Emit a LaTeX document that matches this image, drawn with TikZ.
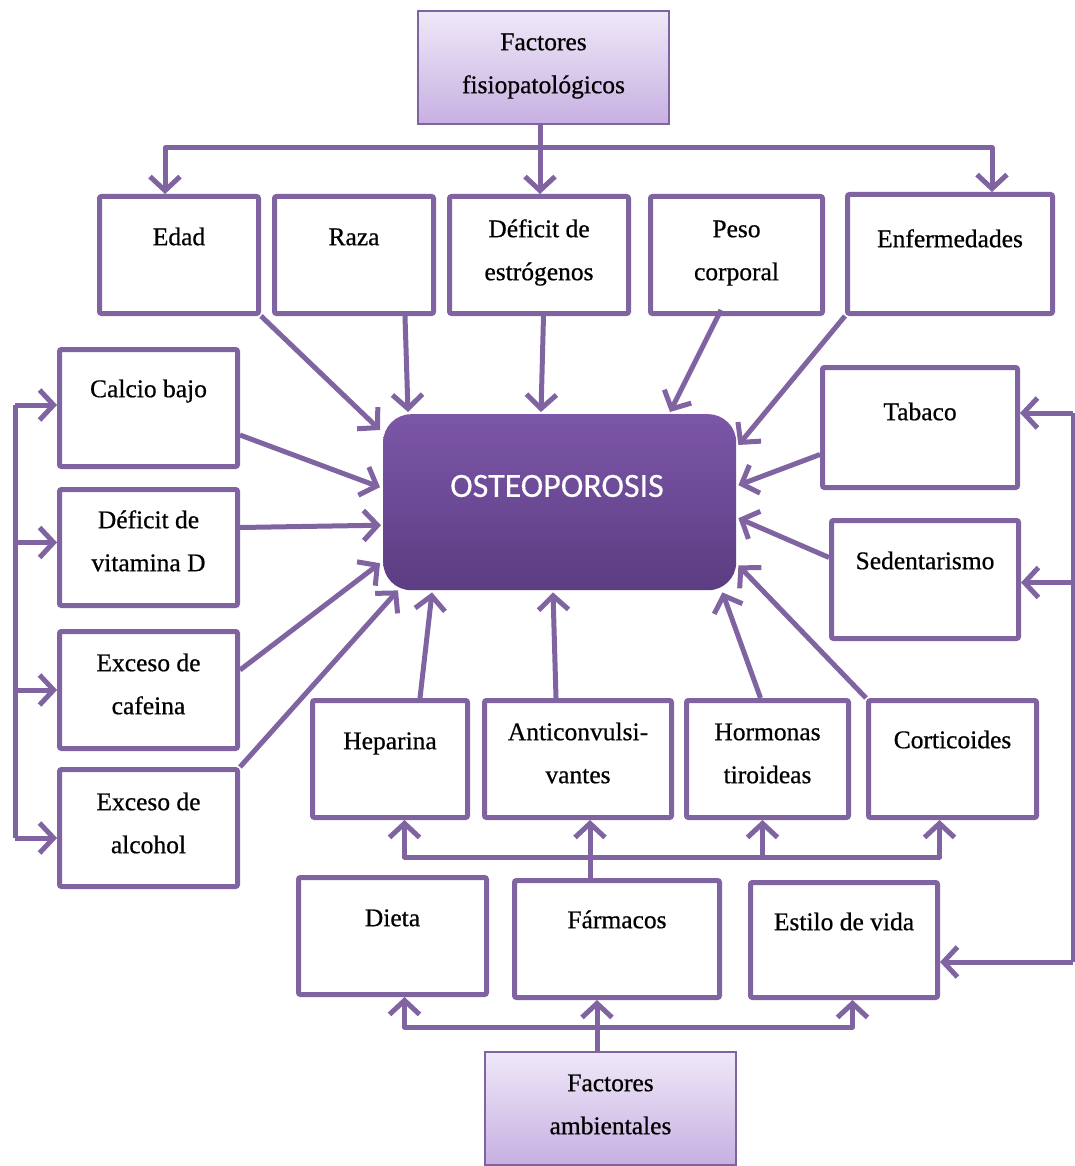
\documentclass[tikz,border=0pt]{standalone}
\usepackage{fontspec}
\setmainfont{Liberation Serif}[FakeBold=0.6]
\newfontfamily\osfont{Carlito}[FakeBold=0.4]
\usetikzlibrary{arrows.meta}
\definecolor{pur}{HTML}{8064A2}
\definecolor{topc}{HTML}{EFE8F8}
\definecolor{botc}{HTML}{C7B0E2}
\definecolor{ostop}{HTML}{7C57A8}
\definecolor{osbot}{HTML}{5C3C82}
\newcommand\lnh{\rule{0pt}{20pt}}
\begin{document}
\begin{tikzpicture}[x=1pt,y=-1pt,
 bx/.style={draw=pur,line width=5pt,fill=white,rounded corners=2pt,anchor=north west,inner sep=0pt},
 gbx/.style={draw=pur,line width=2pt,top color=topc,bottom color=botc,anchor=north west,inner sep=0pt},
 tx/.style={anchor=north,inner sep=0pt,align=center,font=\fontsize{25.5}{43}\selectfont},
 ln/.style={draw=pur,line width=5pt,line join=round},
 con/.style={ln,-{Straight Barb[length=14pt,width=30pt]}}]
\fill[white] (0,0) rectangle (1075,1166);
\useasboundingbox (0,0) rectangle (1075,1166);

% boxes
\node[gbx,minimum width=251pt,minimum height=113pt] (ff) at (417,10) {};
\node[bx,minimum width=159pt,minimum height=117pt] (edad) at (97,194) {};
\node[bx,minimum width=159pt,minimum height=117pt] (raza) at (272,194) {};
\node[bx,minimum width=179pt,minimum height=117pt] (estro) at (447,194) {};
\node[bx,minimum width=172pt,minimum height=117pt] (peso) at (648,194) {};
\node[bx,minimum width=205pt,minimum height=119pt] (enf) at (845,192) {};
\node[bx,minimum width=178pt,minimum height=117pt] (calcio) at (57,347) {};
\node[bx,minimum width=178pt,minimum height=116pt] (vitd) at (57,487) {};
\node[bx,minimum width=178pt,minimum height=117pt] (cafe) at (57,629) {};
\node[bx,minimum width=178pt,minimum height=117pt] (alco) at (57,767) {};
\node[bx,minimum width=195pt,minimum height=120pt] (tabaco) at (820,365) {};
\node[bx,minimum width=187pt,minimum height=118pt] (sed) at (829,518) {};
\node[bx,minimum width=155pt,minimum height=117pt] (hep) at (310,698) {};
\node[bx,minimum width=187pt,minimum height=117pt] (anti) at (482,698) {};
\node[bx,minimum width=162pt,minimum height=117pt] (horm) at (684,698) {};
\node[bx,minimum width=168pt,minimum height=117pt] (cort) at (866,698) {};
\node[bx,minimum width=188pt,minimum height=117pt] (dieta) at (296,875) {};
\node[bx,minimum width=205pt,minimum height=117pt] (farm) at (512,878) {};
\node[bx,minimum width=187pt,minimum height=115pt] (estilo) at (748,880) {};
\node[gbx,minimum width=251pt,minimum height=113pt] (fa) at (484,1051) {};
\node[rounded corners=28pt,top color=ostop,bottom color=osbot,minimum width=353pt,minimum height=176pt,anchor=north west,inner sep=0pt] (osteo) at (383,414) {};

% texts
\node[tx] (ff-t) at ([shift={(0,20)}]ff.north) {\lnh Factores\\fisiopatológicos};
\node[tx] (edad-t) at ([shift={(0,31)}]edad.north) {\lnh Edad};
\node[tx] (raza-t) at ([shift={(0,31)}]raza.north) {\lnh Raza};
\node[tx] (estro-t) at ([shift={(0,23)}]estro.north) {\lnh Déficit de\\estrógenos};
\node[tx] (peso-t) at ([shift={(0,23)}]peso.north) {\lnh Peso\\corporal};
\node[tx] (enf-t) at ([shift={(0,35)}]enf.north) {\lnh Enfermedades};
\node[tx] (calcio-t) at ([shift={(0,30)}]calcio.north) {\lnh Calcio bajo};
\node[tx] (vitd-t) at ([shift={(0,21)}]vitd.north) {\lnh Déficit de\\vitamina D};
\node[tx] (cafe-t) at ([shift={(0,22)}]cafe.north) {\lnh Exceso de\\cafeina};
\node[tx] (alco-t) at ([shift={(0,23)}]alco.north) {\lnh Exceso de\\alcohol};
\node[tx] (tabaco-t) at ([shift={(0,35)}]tabaco.north) {\lnh Tabaco};
\node[tx] (sed-t) at ([shift={(0,31)}]sed.north) {\lnh Sedentarismo};
\node[tx] (hep-t) at ([shift={(0,31)}]hep.north) {\lnh Heparina};
\node[tx] (anti-t) at ([shift={(0,22)}]anti.north) {\lnh Anticonvulsi-\\vantes};
\node[tx] (horm-t) at ([shift={(0,22)}]horm.north) {\lnh Hormonas\\tiroideas};
\node[tx] (cort-t) at ([shift={(0,30)}]cort.north) {\lnh Corticoides};
\node[tx] (dieta-t) at ([shift={(0,31)}]dieta.north) {\lnh Dieta};
\node[tx] (farm-t) at ([shift={(0,30)}]farm.north) {\lnh Fármacos};
\node[tx] (estilo-t) at ([shift={(0,30)}]estilo.north) {\lnh Estilo de vida};
\node[tx] (fa-t) at ([shift={(0,20)}]fa.north) {\lnh Factores\\ambientales};
\node[text=white,inner sep=0pt,font=\osfont\fontsize{34}{34}\selectfont] (osteo-t) at (557,486) {OSTEOPOROSIS};

% top distribution
\coordinate (hb) at (540,148);
\draw[con] (hb |- ff.south) -- (hb |- estro.north);
\draw[con] (hb) -| ([shift={(-14,0)}]edad.north);
\draw[con] (hb) -| ([shift={(42,0)}]enf.north);

% into osteoporosis
\draw[con] (edad.south east) -- ([shift={(-3,16)}]osteo.north west);
\draw[con] ([shift={(-31,0)}]raza.south east) -- ([shift={(25,-2)}]osteo.north west);
\draw[con] ([shift={(4.5,0)}]estro.south) -- ([shift={(158,-2)}]osteo.north west);
\draw[con] ([shift={(-104,-6)}]peso.south east) -- ([shift={(287,-2)}]osteo.north west);
\draw[con] (enf.south west) -- ([shift={(2,31)}]osteo.north east);
\draw[con] ([shift={(0,27)}]calcio.east) -- ([shift={(-3,-15)}]osteo.west);
\draw[con] ([shift={(0,-20)}]vitd.east) -- ([shift={(-2,23)}]osteo.west);
\draw[con] ([shift={(0,-20)}]cafe.east) -- ([shift={(-3,61)}]osteo.west);
\draw[con] (alco.north east) -- ([shift={(15,0)}]osteo.south west);
\draw[con] ([shift={(0,27)}]tabaco.west) -- ([shift={(2,-17)}]osteo.east);
\draw[con] ([shift={(0,-22)}]sed.west) -- ([shift={(2,16)}]osteo.east);
\draw[con] ([shift={(30,0)}]hep.north) -- ([shift={(49,2)}]osteo.south west);
\draw[con] ([shift={(-22,0)}]anti.north) -- ([shift={(170,2)}]osteo.south west);
\draw[con] ([shift={(-7,0)}]horm.north) -- ([shift={(-14,2)}]osteo.south east);
\draw[con] (cort.north west) -- ([shift={(2,-25)}]osteo.south east);

% left bracket
\coordinate (lt) at (15,405);
\coordinate (lb) at (15,838);
\draw[ln] (lt) -- (lb);
\draw[con] (lt) -- (lt -| calcio.west);
\draw[con] ([shift={(0,-5)}]lt |- vitd.west) -- ([shift={(0,-5)}]vitd.west);
\draw[con] (lt |- cafe.west) -- (cafe.west);
\draw[con] (lb) -- (lb -| alco.west);

% right bracket
\coordinate (rt) at (1073,413);
\coordinate (rb) at (1073,962);
\draw[ln] (rt) -- (rb);
\draw[con] (rt) -- (rt -| tabaco.east);
\draw[con] ([shift={(0,3)}]rt |- sed.east) -- ([shift={(0,3)}]sed.east);
\draw[con] (rb) -- (rb -| estilo.east);

% farmacos distribution
\coordinate (mb) at (590,857);
\draw[con] (mb |- farm.north) -- (mb |- anti.south);
\draw[con] (mb) -| ([shift={(14.5,0)}]hep.south);
\draw[con] (mb) -| ([shift={(-13,0)}]cort.south);
\draw[con] ([shift={(-5,0)}]horm.south |- mb) -- ([shift={(-5,0)}]horm.south);

% ambientales distribution
\coordinate (bb) at (597,1027);
\draw[con] (bb |- fa.north) -- (bb |- farm.south);
\draw[con] (bb) -| ([shift={(12,0)}]dieta.south);
\draw[con] (bb) -| ([shift={(8.5,0)}]estilo.south);
\end{tikzpicture}
\end{document}
